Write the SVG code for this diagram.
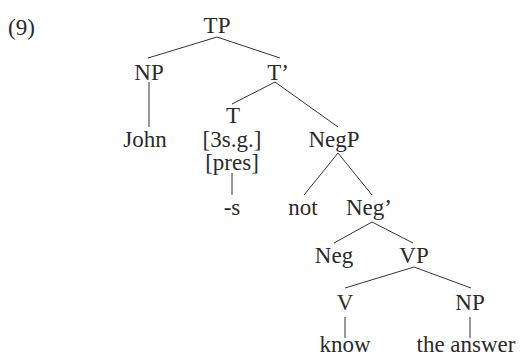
<svg xmlns="http://www.w3.org/2000/svg" width="521" height="358" viewBox="0 0 521 358">
<style>
text{font-family:'Liberation Serif','Times New Roman',serif;font-size:23px;fill:#2a2a2a;text-anchor:middle}
.edge{stroke:#333;stroke-width:1;fill:none}
</style>
<rect width="521" height="358" fill="#fff"/>
<text x="8" y="35" style="text-anchor:start">(9)</text>
<g id="connectors">
<line class="edge" x1="217" y1="37" x2="148" y2="58"/>
<line class="edge" x1="217" y1="37" x2="280" y2="58"/>
<line class="edge" x1="149" y1="82" x2="149" y2="127"/>
<line class="edge" x1="275" y1="82" x2="232" y2="104"/>
<line class="edge" x1="275" y1="82" x2="338" y2="127"/>
<line class="edge" x1="232" y1="173" x2="232" y2="195"/>
<line class="edge" x1="338" y1="153" x2="304" y2="195"/>
<line class="edge" x1="338" y1="153" x2="372" y2="195"/>
<line class="edge" x1="372" y1="222" x2="334" y2="243"/>
<line class="edge" x1="372" y1="222" x2="413" y2="243"/>
<line class="edge" x1="414" y1="267" x2="345" y2="288"/>
<line class="edge" x1="414" y1="267" x2="471" y2="288"/>
<line class="edge" x1="345" y1="317" x2="345" y2="338"/>
<line class="edge" x1="470" y1="317" x2="470" y2="338"/>
</g>
<g id="TP"><text x="217" y="33">TP</text></g>
<g id="NP1"><text x="149" y="80">NP</text></g>
<g id="Tbar"><text x="278" y="80">T’</text></g>
<g id="John"><text x="145" y="147">John</text></g>
<g id="T"><text x="233" y="123">T</text><text x="232" y="147">[3s.g.]</text><text x="232" y="170">[pres]</text></g>
<g id="NegP"><text x="334" y="147">NegP</text></g>
<g id="s"><text x="232" y="215">-s</text></g>
<g id="not"><text x="303" y="215">not</text></g>
<g id="Negbar"><text x="369" y="215">Neg’</text></g>
<g id="Neg"><text x="334" y="263">Neg</text></g>
<g id="VP"><text x="414" y="263">VP</text></g>
<g id="V"><text x="345" y="310">V</text></g>
<g id="NP2"><text x="470" y="310">NP</text></g>
<g id="know"><text x="345" y="352">know</text></g>
<g id="answer"><text x="466" y="352">the answer</text></g>
</svg>
